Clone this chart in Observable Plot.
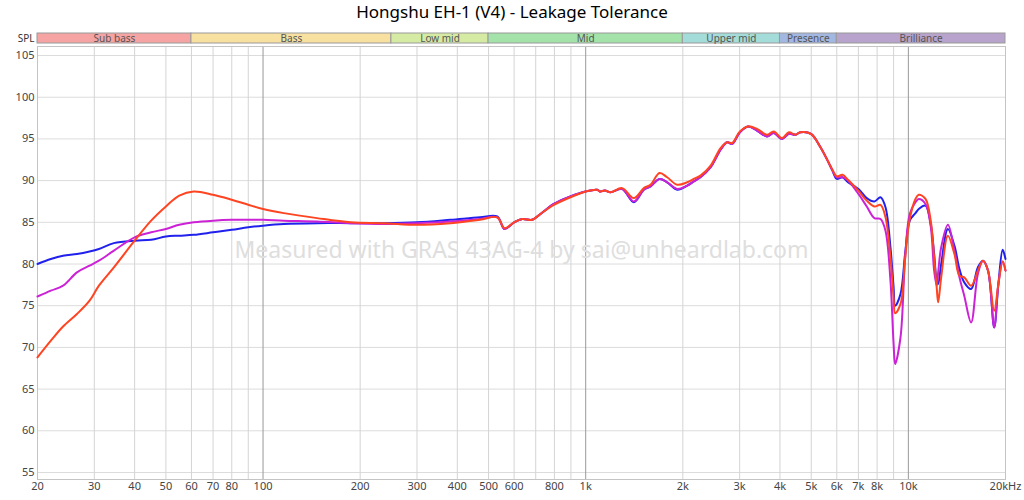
<!DOCTYPE html>
<html>
<head>
<meta charset="utf-8">
<script src="https://cdn.jsdelivr.net/npm/d3@7"></script>
<script src="https://cdn.jsdelivr.net/npm/@observablehq/plot@0.6"></script>
<style>
  html, body { margin: 0; padding: 0; background: #fff; }
  #title { height: 30px; line-height: 32px; text-align: center; font: 17px "Noto Sans", "Open Sans", sans-serif; color: #000; }
  svg { display: block; }
</style>
</head>
<body>
<div id="title">Hongshu EH-1 (V4) - Leakage Tolerance</div>
<div id="bands"></div>
<div id="chart"></div>
<script>
const titleText = "Hongshu EH-1 (V4) - Leakage Tolerance";
const watermark = "Measured with GRAS 43AG-4 by sai@unheardlab.com";

const bandNames = ["Sub bass", "Bass", "Low mid", "Mid", "Upper mid", "Presence", "Brilliance"];
const bandEdges = [20, 60, 250, 500, 2000, 4000, 6000, 20000];
const bandColors = ["#f5a3a3", "#f7e0a0", "#d5eba3", "#a3e3aa", "#a3dcd8", "#a3b8e0", "#b8a3cc"];

const yTicks = [55, 60, 65, 70, 75, 80, 85, 90, 95, 100, 105];
const gridFreqs = [20,30,40,50,60,70,80,90,100,200,300,400,500,600,700,800,900,1000,2000,3000,4000,5000,6000,7000,8000,9000,10000,20000];
const majorFreqs = [100, 1000, 10000];
const labelFreqs = [20,30,40,50,60,70,80,100,200,300,400,500,600,800,1000,2000,3000,4000,5000,6000,7000,8000,10000,20000];
const labelTexts = ["20","30","40","50","60","70","80","100","200","300","400","500","600","800","1k","2k","3k","4k","5k","6k","7k","8k","10k","20kHz"];

const freq = [20,22,24,26.5,29,31,34.5,40,45,50,55,61,70,80,90,100,116,147,187,237,300,381,470,532,560,600,636,682,724,797,897,1000,1086,1108,1147,1194,1297,1410,1514,1588,1694,1788,1921,2064,2163,2268,2439,2618,2744,2844,3005,3185,3396,3645,3828,4060,4261,4470,4630,4990,5340,5620,5818,6000,6250,6500,7000,7430,7850,8198,8494,8800,9000,9100,9454,9780,10100,10520,10770,11300,11730,12020,12240,12370,12640,13260,13890,14400,14900,15650,16420,17030,17660,18450,19010,19600,20000];

const blueSPL = [80.0,80.6,81.0,81.2,81.5,81.8,82.5,82.8,82.9,83.3,83.4,83.5,83.8,84.1,84.4,84.6,84.8,84.9,84.9,84.9,85.0,85.3,85.6,85.7,84.2,85.0,85.4,85.3,86.0,87.2,88.1,88.7,88.9,88.7,88.8,88.6,89.0,87.4,88.9,89.3,90.2,89.8,88.9,89.4,89.9,90.4,91.6,93.7,94.6,94.4,95.8,96.5,96.0,95.3,95.7,95.0,95.6,95.5,95.8,95.6,94.0,92.4,91.2,90.2,90.4,89.8,89.0,87.9,87.5,88.0,86.8,82.0,77.2,75.0,76.4,81.4,85.2,86.1,86.6,87.0,84.8,81.2,78.0,77.6,80.0,84.2,82.2,79.4,77.8,77.0,79.6,80.4,79.2,72.4,77.6,81.7,80.6];

const magentaSPL = [76.1,76.8,77.4,79.0,79.8,80.4,81.6,83.2,83.8,84.2,84.7,85.0,85.2,85.3,85.3,85.3,85.2,85.1,84.9,84.8,84.9,85.1,85.4,85.6,84.2,85.0,85.4,85.3,86.0,87.2,88.1,88.7,88.9,88.7,88.8,88.6,89.0,87.5,88.9,89.3,90.2,89.8,89.0,89.4,89.9,90.4,91.6,93.7,94.6,94.4,95.8,96.5,96.0,95.3,95.7,95.0,95.6,95.5,95.8,95.6,94.0,92.4,91.2,90.4,90.4,90.0,88.4,86.9,85.5,85.4,84.0,78.0,70.4,68.0,71.2,81.0,86.0,87.4,87.8,87.2,84.5,79.2,77.4,79.0,82.0,84.7,81.6,78.4,76.2,73.0,78.8,80.4,79.2,72.4,77.6,80.3,79.2];

const redSPL = [68.8,70.8,72.5,74.0,75.6,77.4,79.6,82.8,85.2,86.9,88.2,88.7,88.3,87.7,87.1,86.6,86.1,85.5,85.0,84.9,84.7,84.9,85.3,85.6,84.3,85.0,85.4,85.3,86.0,87.1,88.0,88.7,88.9,88.7,88.8,88.6,89.1,87.9,89.1,89.5,90.9,90.4,89.5,89.8,90.2,90.6,91.8,93.9,94.6,94.5,95.9,96.5,96.2,95.5,95.9,95.1,95.8,95.5,95.8,95.6,94.0,92.4,91.3,90.5,90.7,90.1,88.8,87.6,86.9,87.1,85.6,80.8,76.0,74.1,75.2,80.8,85.4,87.8,88.3,87.8,85.2,80.8,77.2,75.4,78.4,83.4,81.2,78.6,78.4,77.4,79.2,80.4,79.2,74.4,77.6,80.3,79.2];

const seriesNames = ["fit A", "fit B", "fit C"];
const seriesColors = ["#2121ee", "#cc22d6", "#ff4422"];
const seriesValues = [blueSPL, magentaSPL, redSPL];

const rows = seriesNames.flatMap((s, i) => freq.map((f, j) => ({series: s, f, db: seriesValues[i][j]})));
const bands = bandNames.map((name, i) => ({name, x1: bandEdges[i], x2: bandEdges[i + 1], color: bandColors[i]}));
const xLabels = labelFreqs.map((f, i) => ({f, text: labelTexts[i]}));

const font = '"Noto Sans", "Open Sans", sans-serif';
const xDomain = [20, 20000];
const ml = 37, mr = 19;

const bandPlot = Plot.plot({
  width: 1024, height: 14,
  marginLeft: ml, marginRight: mr, marginTop: 3, marginBottom: 1,
  x: {type: "log", domain: xDomain, axis: null},
  y: {domain: [0, 1], axis: null},
  style: {fontFamily: font, background: "transparent"},
  marks: [
    Plot.rect(bands, {x1: "x1", x2: "x2", y1: 0, y2: 1, fill: "color", stroke: "#9a9a9a", strokeWidth: 1}),
    Plot.text(bands, {x: d => Math.sqrt(d.x1 * d.x2), y: 0.5, text: "name", fill: "#555", fontSize: 10}),
    Plot.text(["SPL"], {frameAnchor: "left", dx: -3, textAnchor: "end", fill: "#333", fontSize: 10})
  ]
});
document.getElementById("bands").appendChild(bandPlot);

const chart = Plot.plot({
  width: 1024, height: 456,
  marginLeft: ml, marginRight: mr, marginTop: 2, marginBottom: 21,
  x: {type: "log", domain: xDomain, axis: null},
  y: {domain: [54.16, 106.08]},
  color: {domain: seriesNames, range: seriesColors},
  style: {fontFamily: font, fontSize: "11px", color: "#444", background: "transparent"},
  marks: [
    Plot.ruleY(yTicks, {stroke: "#dcdcdc", strokeWidth: 1}),
    Plot.ruleX(gridFreqs.filter(f => !majorFreqs.includes(f)), {stroke: "#d4d4d4", strokeWidth: 1}),
    Plot.ruleX(majorFreqs, {stroke: "#999", strokeWidth: 1}),
    Plot.frame({stroke: "#c4c4c4"}),
    Plot.text([watermark], {frameAnchor: "middle", dy: -12, fill: "#dedede", fontSize: 23}),
    Plot.axisY({ticks: yTicks, tickSize: 0, tickPadding: 3, label: null, fill: "#444"}),
    Plot.text(xLabels, {x: "f", text: "text", frameAnchor: "bottom", dy: 10, fill: "#444", fontSize: 11}),
    Plot.line(rows, {x: "f", y: "db", z: "series", stroke: "series", strokeWidth: 2, curve: "catmull-rom"})
  ]
});
document.getElementById("chart").appendChild(chart);
</script>
</body>
</html>
